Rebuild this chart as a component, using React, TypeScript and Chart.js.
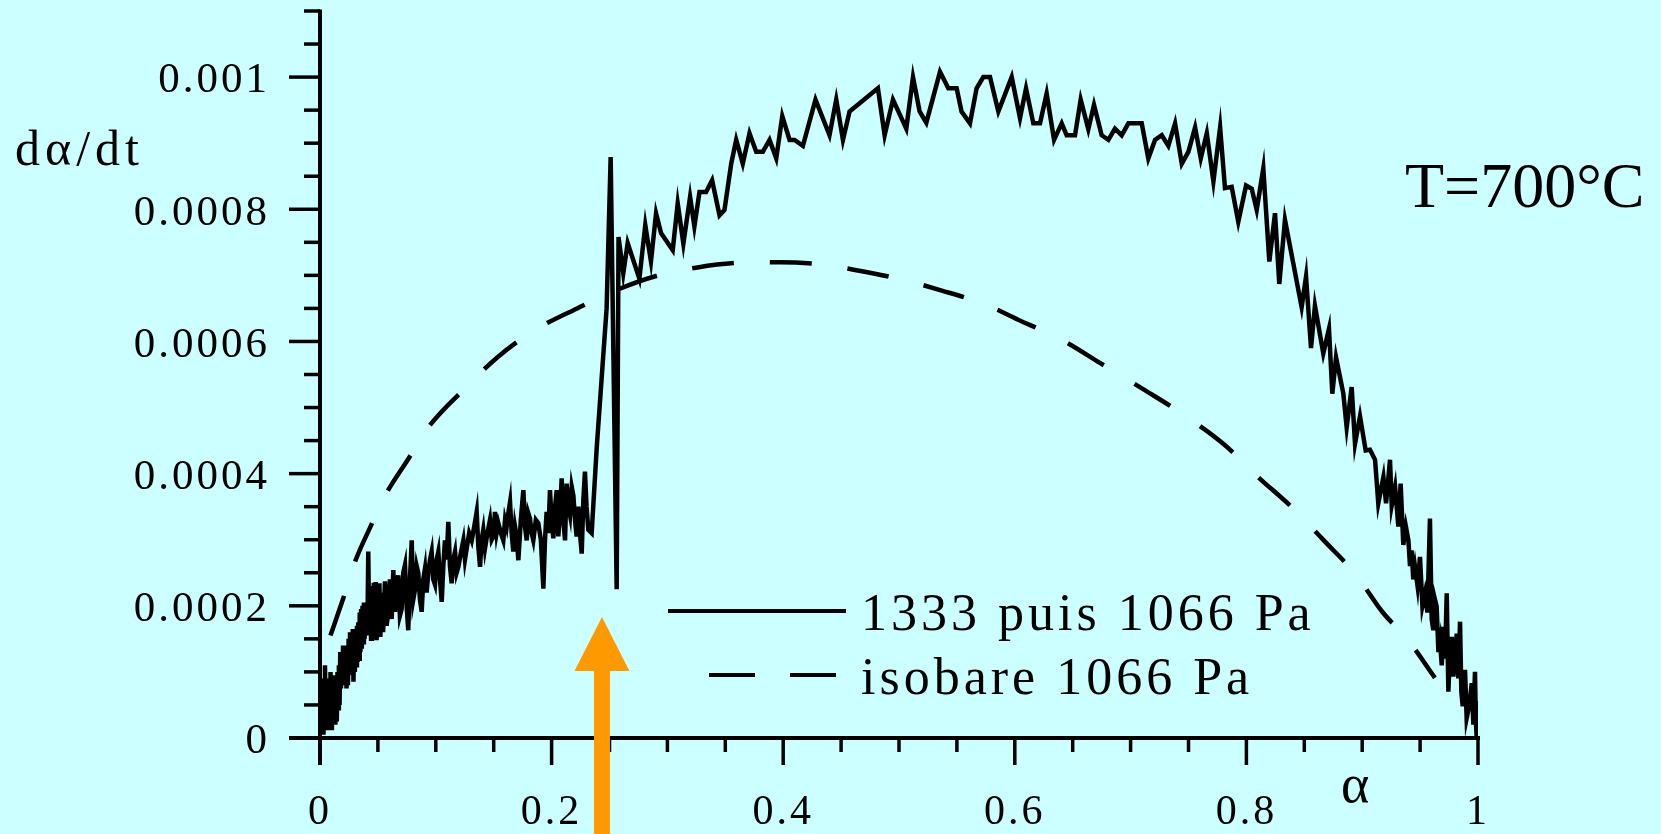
import React, { useEffect, useRef } from 'react';
import { Chart, registerables } from 'chart.js';

Chart.register(...registerables);

// ---------- data ----------
const RATE_UNIT = 1e-4; // rate arrays below are written in units of 1e-4 s^-1

const xMajorTicks = [0, 0.2, 0.4, 0.6, 0.8, 1];
const xTickLabels = ['0', '0.2', '0.4', '0.6', '0.8', '1'];
const xMinorTicks = [0.05, 0.1, 0.15, 0.25, 0.3, 0.35, 0.45, 0.5, 0.55, 0.65, 0.7, 0.75, 0.85, 0.9, 0.95];

const yMajorTicks = [0, 0.0002, 0.0004, 0.0006, 0.0008, 0.001];
const yTickLabels = ['0', '0.0002', '0.0004', '0.0006', '0.0008', '0.001'];
const yMinorTicks = [0.00005, 0.0001, 0.00015, 0.00025, 0.0003, 0.00035, 0.00045, 0.0005, 0.00055,
  0.00065, 0.0007, 0.00075, 0.00085, 0.0009, 0.00095, 0.00105, 0.0011];
const yMax = 0.0011;

const seriesLabels = ['1333 puis 1066 Pa', 'isobare 1066 Pa'];

// [alpha, dalpha/dt (x1e-4)]
const solidCurve: number[][] = [
  [0.0000, 0.6], [0.0006, 0.1], [0.0012, 0.9], [0.0018, 0.2], [0.0024, 0.7], [0.0030, 0.05], [0.0036, 0.8],
  [0.0043, 1.1], [0.0049, 0.2], [0.0055, 0.7], [0.0061, 0.15], [0.0067, 0.9], [0.0073, 0.3], [0.0079, 0.85],
  [0.0085, 0.2], [0.0091, 1.0], [0.0097, 0.15], [0.0103, 0.8], [0.0109, 0.3], [0.0115, 0.95], [0.0121, 0.35],
  [0.0127, 0.7], [0.0133, 0.2], [0.0139, 0.75], [0.0145, 0.25], [0.0151, 1.0], [0.0157, 0.45], [0.0163, 1.1],
  [0.0169, 0.5], [0.0175, 1.3], [0.0181, 0.75], [0.0187, 1.2], [0.0193, 0.8], [0.0199, 1.4], [0.0205, 0.85],
  [0.0211, 1.3], [0.0217, 0.9], [0.0223, 1.25], [0.0229, 0.75], [0.0235, 1.4], [0.0241, 0.8], [0.0247, 1.5],
  [0.0253, 1.0], [0.0259, 1.6], [0.0265, 0.95], [0.0271, 1.55], [0.0277, 1.05], [0.0283, 1.65], [0.0289, 0.85],
  [0.0295, 1.5], [0.0301, 1.0], [0.0307, 1.6], [0.0313, 1.1], [0.0319, 1.7], [0.0325, 1.15], [0.0331, 1.75],
  [0.0337, 1.2], [0.0343, 1.9], [0.0349, 1.3], [0.0355, 1.95], [0.0361, 1.35], [0.0367, 2.0], [0.0373, 1.45],
  [0.0379, 2.05], [0.0385, 1.5], [0.0391, 1.95], [0.0397, 1.55], [0.0403, 2.0], [0.0409, 1.6], [0.0417, 2.82],
  [0.0425, 1.55], [0.0433, 2.3], [0.0441, 1.5], [0.0449, 2.25], [0.0457, 1.55], [0.0465, 2.35], [0.0473, 1.5],
  [0.0481, 2.36], [0.0489, 1.48], [0.0497, 2.2], [0.0505, 1.6], [0.0513, 2.34], [0.0521, 1.53], [0.0533, 2.2],
  [0.0545, 1.6], [0.0561, 2.37], [0.0575, 1.7], [0.0590, 1.91], [0.0604, 2.4], [0.0619, 1.8], [0.0633, 2.54],
  [0.0648, 1.91], [0.0662, 2.3], [0.0676, 2.46], [0.0690, 1.85], [0.0705, 1.95], [0.0719, 2.5], [0.0734, 2.62],
  [0.0748, 2.0], [0.0762, 1.63], [0.0777, 2.4], [0.0792, 2.99], [0.0806, 2.1], [0.0820, 2.24], [0.0835, 2.6],
  [0.0849, 2.49], [0.0863, 2.1], [0.0878, 1.91], [0.0892, 2.4], [0.0907, 2.57], [0.0921, 2.2], [0.0935, 2.49],
  [0.0950, 2.7], [0.0964, 2.82], [0.0978, 2.4], [0.0993, 2.32], [0.1008, 2.7], [0.1022, 2.82], [0.1036, 2.4],
  [0.1051, 2.06], [0.1065, 2.6], [0.1079, 2.99], [0.1094, 2.7], [0.1108, 3.27], [0.1122, 2.6], [0.1137, 2.34],
  [0.1151, 2.7], [0.1166, 2.82], [0.1180, 2.5], [0.1195, 2.59], [0.1216, 2.8], [0.1238, 2.99], [0.1252, 2.7],
  [0.1267, 2.87], [0.1288, 3.1], [0.1310, 2.99], [0.1332, 3.2], [0.1353, 3.42], [0.1367, 2.9], [0.1382, 2.59],
  [0.1396, 3.0], [0.1410, 3.15], [0.1425, 2.87], [0.1446, 3.1], [0.1468, 3.30], [0.1483, 3.0], [0.1497, 3.05],
  [0.1511, 3.42], [0.1525, 3.1], [0.1540, 3.25], [0.1562, 3.1], [0.1583, 2.99], [0.1598, 3.3], [0.1612, 3.20],
  [0.1626, 3.4], [0.1641, 3.57], [0.1655, 3.1], [0.1669, 2.82], [0.1684, 3.2], [0.1698, 3.05], [0.1713, 2.69],
  [0.1734, 3.3], [0.1756, 3.75], [0.1770, 3.2], [0.1785, 2.99], [0.1799, 3.4], [0.1813, 3.32], [0.1828, 3.1],
  [0.1842, 2.99], [0.1864, 3.3], [0.1885, 3.25], [0.1907, 3.0], [0.1929, 2.26], [0.1943, 3.0], [0.1957, 3.42],
  [0.1972, 3.1], [0.1986, 3.75], [0.2000, 3.3], [0.2015, 3.02], [0.2030, 3.5], [0.2044, 3.75], [0.2058, 3.05],
  [0.2072, 3.4], [0.2087, 3.93], [0.2101, 3.3], [0.2116, 2.99], [0.2130, 3.85], [0.2145, 3.5], [0.2159, 3.37],
  [0.2174, 3.8], [0.2188, 3.67], [0.2202, 3.3], [0.2216, 3.05], [0.2231, 3.50], [0.2245, 3.1], [0.2260, 2.79],
  [0.2274, 3.6], [0.2288, 4.03], [0.2302, 3.5], [0.2317, 3.15], [0.2346, 3.10], [0.2390, 4.4], [0.2475, 6.5],
  [0.2510, 8.79], [0.2562, 2.25], [0.2578, 7.58], [0.2619, 7.03], [0.2657, 7.49], [0.2758, 6.95], [0.2809, 7.76],
  [0.2858, 7.21], [0.2902, 7.94], [0.2945, 7.64], [0.3046, 7.38], [0.3089, 8.09], [0.3138, 7.48], [0.3196, 8.19],
  [0.3233, 7.74], [0.3277, 8.26], [0.3334, 8.26], [0.3386, 8.44], [0.3450, 7.91], [0.3493, 7.99], [0.3551, 8.69],
  [0.3594, 9.05], [0.3651, 8.69], [0.3709, 9.15], [0.3767, 8.87], [0.3824, 8.87], [0.3882, 9.05], [0.3940, 8.77],
  [0.3992, 9.41], [0.4055, 9.05], [0.4098, 9.05], [0.4170, 8.96], [0.4279, 9.66], [0.4400, 9.12], [0.4458, 9.66],
  [0.4516, 9.05], [0.4573, 9.48], [0.4818, 9.83], [0.4876, 9.12], [0.4948, 9.66], [0.5063, 9.22], [0.5121, 10.0],
  [0.5178, 9.48], [0.5236, 9.31], [0.5354, 10.08], [0.5426, 9.83], [0.5498, 9.83], [0.5540, 9.48], [0.5613, 9.30],
  [0.5670, 9.83], [0.5728, 10.0], [0.5786, 10.0], [0.5858, 9.48], [0.5973, 10.0], [0.6045, 9.38], [0.6097, 9.83],
  [0.6160, 9.30], [0.6218, 9.30], [0.6275, 9.75], [0.6339, 9.05], [0.6405, 9.30], [0.6448, 9.12], [0.6520, 9.12],
  [0.6569, 9.66], [0.6635, 9.21], [0.6684, 9.58], [0.6750, 9.12], [0.6808, 9.05], [0.6865, 9.22], [0.6923, 9.12],
  [0.6981, 9.30], [0.7096, 9.30], [0.7153, 8.77], [0.7211, 9.05], [0.7269, 9.12], [0.7326, 8.96], [0.7384, 9.30],
  [0.7442, 8.69], [0.7499, 8.87], [0.7557, 9.24], [0.7606, 8.77], [0.7658, 9.15], [0.7715, 8.42], [0.7773, 9.24],
  [0.7815, 8.32], [0.7873, 8.34], [0.7930, 7.81], [0.7997, 8.36], [0.8046, 8.31], [0.8089, 7.99], [0.8146, 8.62],
  [0.8198, 7.21], [0.8247, 7.94], [0.8284, 6.87], [0.8333, 7.84], [0.8477, 6.52], [0.8515, 6.98], [0.8558, 5.90],
  [0.8592, 6.54], [0.8664, 5.82], [0.8713, 6.19], [0.8742, 5.21], [0.8774, 5.76], [0.8837, 5.21], [0.8866, 4.70],
  [0.8909, 5.31], [0.8938, 4.45], [0.8981, 4.87], [0.9030, 4.35], [0.9067, 4.36], [0.9111, 4.21], [0.9139, 3.55],
  [0.9183, 3.95], [0.9206, 3.55], [0.9240, 4.21], [0.9255, 3.52], [0.9284, 3.80], [0.9312, 3.20], [0.9332, 3.85],
  [0.9355, 2.92], [0.9377, 3.2], [0.9399, 2.99], [0.9413, 2.6], [0.9427, 2.84], [0.9441, 2.4], [0.9456, 2.59],
  [0.9478, 2.3], [0.9499, 2.74], [0.9520, 2.0], [0.9542, 2.19], [0.9563, 1.9], [0.9585, 3.32], [0.9600, 1.8],
  [0.9614, 1.63], [0.9628, 2.1], [0.9643, 1.99], [0.9658, 1.3], [0.9672, 1.46], [0.9687, 1.1], [0.9701, 1.68],
  [0.9715, 1.2], [0.9730, 2.19], [0.9744, 0.70], [0.9758, 1.3], [0.9773, 1.53], [0.9787, 0.93], [0.9801, 1.2],
  [0.9816, 1.58], [0.9830, 0.9], [0.9845, 1.76], [0.9856, 0.7], [0.9868, 0.48], [0.9878, 0.9], [0.9888, 1.03],
  [0.9902, 0.3], [0.9917, 0.43], [0.9931, 0.6], [0.9946, 0.83], [0.9960, 0.2], [0.9974, 1.0], [0.9981, 0.3],
  [0.9988, 0.02], [0.9995, 0.56], [1.0, 0.0],
];

const dashedCurve: number[][] = [
  [0.009, 1.55], [0.0206, 2.14], [0.0303, 2.67], [0.0434, 3.19], [0.0563, 3.67], [0.0758, 4.21], [0.0953, 4.74],
  [0.1246, 5.28], [0.1538, 5.77], [0.1863, 6.18], [0.222, 6.50], [0.2578, 6.79], [0.2903, 6.99], [0.326, 7.12],
  [0.3618, 7.19], [0.3975, 7.20], [0.430, 7.17], [0.4657, 7.07], [0.5015, 6.94], [0.537, 6.77], [0.5729, 6.57],
  [0.6053, 6.31], [0.6411, 6.02], [0.6768, 5.64], [0.7126, 5.26], [0.745, 4.90], [0.7808, 4.44], [0.810, 3.95],
  [0.8393, 3.49], [0.8685, 2.96], [0.8946, 2.47], [0.9173, 1.91], [0.9401, 1.47], [0.9628, 0.91],
];

// annotation: arrow marking the pressure change
const arrowAlpha = 0.2435;
const arrowTipRate = 0.000183;

// ---------- style ----------
const BG = '#ccffff';
const FONT = "'Liberation Serif', 'Times New Roman', Times, serif";
const ORANGE = '#ff9900';

const toPoints = (curve: number[][]) => curve.map(([a, v]) => ({ x: a, y: v * RATE_UNIT }));

const decorPlugin: any = {
  id: 'decor',
  beforeLayout(chart: any) {
    chart.ctx.letterSpacing = '3px';
  },
  beforeDraw(chart: any) {
    const ctx = chart.ctx;
    ctx.save();
    ctx.fillStyle = BG;
    ctx.fillRect(0, 0, chart.width, chart.height);
    ctx.restore();
    ctx.letterSpacing = '3px';
  },
  afterDatasetsDraw(chart: any) {
    const ctx = chart.ctx;
    const xs = chart.scales.x;
    const ys = chart.scales.y;
    const x0 = xs.getPixelForValue(0);
    const x1 = xs.getPixelForValue(1);
    const y0 = ys.getPixelForValue(0);
    const yTop = ys.getPixelForValue(yMax);
    const line = (ax: number, ay: number, bx: number, by: number) => {
      ctx.beginPath();
      ctx.moveTo(ax, ay);
      ctx.lineTo(bx, by);
      ctx.stroke();
    };
    ctx.save();
    ctx.strokeStyle = '#000';
    ctx.lineCap = 'butt';
    ctx.setLineDash([]);
    // axes
    ctx.lineWidth = 4;
    line(x0, yTop - 1.5, x0, y0 + 27);
    line(x0 - 31, y0, x1 + 2, y0);
    // ticks
    ctx.lineWidth = 3.5;
    yMajorTicks.forEach((v) => { const y = ys.getPixelForValue(v); line(x0 - 31, y, x0, y); });
    yMinorTicks.forEach((v) => { const y = ys.getPixelForValue(v); line(x0 - 16, y, x0, y); });
    xMajorTicks.forEach((v) => { const x = xs.getPixelForValue(v); line(x, y0, x, y0 + 27); });
    xMinorTicks.forEach((v) => { const x = xs.getPixelForValue(v); line(x, y0, x, y0 + 14); });

    // legend
    const ds = chart.data.datasets;
    ctx.lineWidth = 4;
    ctx.setLineDash([]);
    line(668, 611, 846, 611);
    ctx.setLineDash([46, 35]);
    line(709, 675, 838, 675);
    ctx.setLineDash([]);
    ctx.fillStyle = '#000';
    ctx.textAlign = 'left';
    ctx.textBaseline = 'alphabetic';
    ctx.font = `52px ${FONT}`;
    ctx.letterSpacing = '4px';
    ctx.fillText(ds[0].label, 861, 630);
    ctx.fillText(ds[1].label, 861, 694);

    // axis titles
    ctx.font = `50px ${FONT}`;
    ctx.letterSpacing = '5px';
    ctx.fillText('d\u03B1/dt', 15, 165);
    ctx.textAlign = 'center';
    ctx.letterSpacing = '0px';
    ctx.font = `54px ${FONT}`;
    ctx.fillText('\u03B1', xs.getPixelForValue(0.894), 802);

    // temperature note
    ctx.textAlign = 'left';
    ctx.font = `64px ${FONT}`;
    ctx.letterSpacing = '0px';
    ctx.fillText('T=700\u00B0C', 1405, 207);

    // orange arrow
    const ax = xs.getPixelForValue(arrowAlpha);
    const tipY = ys.getPixelForValue(arrowTipRate);
    ctx.fillStyle = ORANGE;
    ctx.beginPath();
    ctx.moveTo(ax, tipY);
    ctx.lineTo(ax + 27.5, tipY + 54);
    ctx.lineTo(ax - 27.5, tipY + 54);
    ctx.closePath();
    ctx.fill();
    ctx.fillRect(ax - 8, tipY + 53, 16, chart.height - tipY - 53);
    ctx.restore();
    ctx.letterSpacing = '3px';
  },
};

export default function App() {
  const ref = useRef<HTMLCanvasElement>(null);
  useEffect(() => {
    document.body.style.margin = '0';
    document.body.style.background = BG;
    const canvas = ref.current as HTMLCanvasElement;
    const chart = new Chart(canvas, {
      type: 'line',
      data: {
        datasets: [
          {
            label: seriesLabels[0],
            data: toPoints(solidCurve),
            borderColor: '#000',
            borderWidth: 4.5,
            borderJoinStyle: 'miter',
            pointRadius: 0,
            tension: 0,
            fill: false,
          },
          {
            label: seriesLabels[1],
            data: toPoints(dashedCurve),
            borderColor: '#000',
            borderWidth: 4.5,
            borderDash: [42, 36],
            borderCapStyle: 'butt',
            pointRadius: 0,
            cubicInterpolationMode: 'monotone',
            fill: false,
          },
        ],
      } as any,
      options: {
        responsive: false,
        animation: false,
        devicePixelRatio: 1,
        layout: { padding: { top: 11, right: 183, bottom: 0, left: 0 } },
        plugins: { legend: { display: false }, tooltip: { enabled: false } },
        scales: {
          x: {
            type: 'linear',
            min: 0,
            max: 1,
            grid: { display: false, drawTicks: false },
            border: { display: false },
            afterBuildTicks: (s: any) => { s.ticks = xMajorTicks.map((value) => ({ value })); },
            afterFit: (s: any) => {
              s.height = 96;
              s.paddingLeft = 0; s.paddingRight = 0; s.paddingTop = 0; s.paddingBottom = 0;
            },
            ticks: {
              autoSkip: false,
              maxRotation: 0,
              minRotation: 0,
              padding: 50,
              color: '#000',
              font: { family: FONT, size: 42 },
              callback: (_v: any, i: number) => xTickLabels[i],
            },
          },
          y: {
            type: 'linear',
            min: 0,
            max: yMax,
            grid: { display: false, drawTicks: false },
            border: { display: false },
            afterBuildTicks: (s: any) => { s.ticks = yMajorTicks.map((value) => ({ value })); },
            afterFit: (s: any) => {
              s.width = 320;
              s.paddingLeft = 0; s.paddingRight = 0; s.paddingTop = 0; s.paddingBottom = 0;
            },
            ticks: {
              autoSkip: false,
              padding: 50,
              color: '#000',
              // two-line label with a small line height nudges the text ~4px below the tick, as in the source
              font: { family: FONT, size: 43, lineHeight: '8px' },
              callback: (_v: any, i: number) => ['', yTickLabels[i]],
            },
          },
        },
      } as any,
      plugins: [decorPlugin],
    });
    return () => chart.destroy();
  }, []);

  return (
    <div style={{ position: 'absolute', left: 0, top: 0, width: 1661, height: 834, background: BG }}>
      <canvas ref={ref} width={1661} height={834} style={{ display: 'block', width: 1661, height: 834 }} />
    </div>
  );
}
